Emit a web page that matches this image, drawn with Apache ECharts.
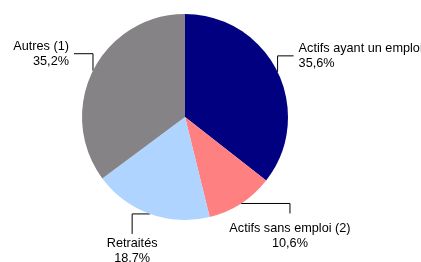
<!DOCTYPE html>
<html>
<head>
<meta charset="utf-8">
<script src="https://cdn.jsdelivr.net/npm/echarts@6/dist/echarts.min.js"></script>
<style>
  html, body { margin: 0; padding: 0; background: #fff; }
  #chart { width: 421px; height: 262px; }
</style>
</head>
<body>
<div id="chart"></div>
<script>
// données
var categories = ['Actifs ayant un emploi', 'Actifs sans emploi (2)', 'Retraités', 'Autres (1)'];
var values = [35.6, 10.6, 18.7, 35.2];
var colors = ['#000080', '#ff8080', '#afd4ff', '#858385'];

// coude du trait de rappel : depuis le bord du camembert, puis position du texte
var guides = [
  { first: 'v', d1: -16, d2: 16, align: 'left', gap: 5 },
  { first: 'h', d1: 49, d2: 10, align: 'center', gap: 8 },
  { first: 'h', d1: -18, d2: 20, align: 'center', gap: 2 },
  { first: 'v', d1: -17, d2: -19, align: 'right', gap: 5 }
];

function fmt(v) {
  return v.toFixed(1).replace('.', ',') + '%';
}

var data = [];
for (var i = 0; i < categories.length; i++) {
  data.push({ name: categories[i], value: values[i], itemStyle: { color: colors[i] } });
}

var myChart = echarts.init(document.getElementById('chart'));

var option = {
  animation: false,
  series: [{
    type: 'pie',
    center: [185, 117],
    radius: 103,
    startAngle: 90,
    clockwise: true,
    data: data,
    label: {
      show: true,
      formatter: function (p) { return p.name + '\n' + fmt(p.value); },
      color: '#000',
      fontFamily: 'Liberation Sans, Arial, sans-serif',
      fontSize: 12.7,
      lineHeight: 15,
      overflow: 'none'
    },
    labelLine: {
      show: true,
      length: 10,
      length2: 10,
      lineStyle: { color: '#000', width: 1 }
    },
    labelLayout: function (params) {
      var g = guides[params.dataIndex];
      var p0 = params.labelLinePoints[0];
      var p1, p2, x, y, va;
      if (g.first === 'v') {
        p1 = [p0[0], p0[1] + g.d1];
        p2 = [p1[0] + g.d2, p1[1]];
        x = p2[0] + (g.d2 > 0 ? g.gap : -g.gap);
        y = p2[1];
        va = 'middle';
      } else {
        p1 = [p0[0] + g.d1, p0[1]];
        p2 = [p1[0], p1[1] + g.d2];
        x = p2[0];
        y = p2[1] + g.gap;
        va = 'top';
      }
      return {
        x: x,
        y: y,
        align: g.align,
        verticalAlign: va,
        labelLinePoints: [p0, p1, p2]
      };
    },
    emphasis: { disabled: true }
  }]
};

myChart.setOption(option);
window.addEventListener('resize', function () {
  myChart.resize();
});
</script>
</body>
</html>
